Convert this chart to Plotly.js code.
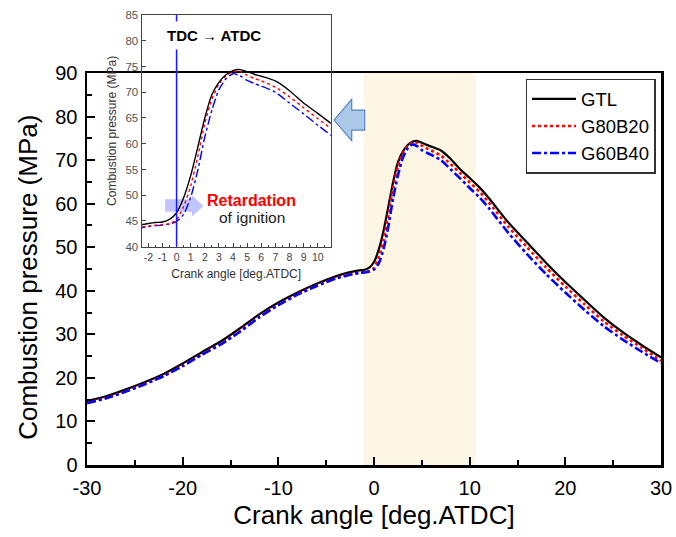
<!DOCTYPE html>
<html>
<head>
<meta charset="utf-8">
<script src="https://cdn.plot.ly/plotly-3.0.1.min.js"></script>
<style>html,body{margin:0;padding:0;background:#fff;}#chart{width:676px;height:537px;}</style>
</head>
<body>
<div id="chart"></div>
<script>
// Crank angle [deg.ATDC]
var crankAngle = [-30,-28,-26,-24,-22,-20,-18,-16,-14,-12,-10,-8,-6,-4,-3,-2,-1.5,-1,-0.5,0,0.5,1,1.5,2,2.5,3,3.5,4,4.5,5,5.5,6,7,8,9,10,11,12,14,16,18,20,22,24,26,28,30];
// Combustion pressure (MPa)
var gtl    = [14.7,15.8,17.3,19.0,20.9,23.3,25.9,28.4,31.4,34.6,37.3,39.6,41.6,43.3,44.0,44.5,44.7,44.8,45.3,46.6,49.5,53.8,59.3,65.0,69.5,71.9,73.4,74.2,74.4,74.0,73.5,73.1,72.2,70.3,67.9,65.9,63.8,61.3,55.8,51.1,46.4,42.0,37.9,33.9,30.5,27.5,24.7];
var g80b20 = [14.3,15.4,16.9,18.6,20.5,22.8,25.4,27.8,30.8,34.0,36.8,39.2,41.2,42.9,43.6,44.0,44.2,44.3,44.5,45.2,47.8,51.8,57.5,63.9,68.6,71.6,73.2,74.0,74.0,73.3,72.7,72.2,71.0,69.1,67.0,64.9,62.8,60.3,54.8,50.0,45.3,41.0,36.9,33.0,29.8,26.9,23.9];
var g60b40 = [14.2,15.3,16.8,18.5,20.4,22.7,25.3,27.7,30.6,33.9,36.7,39.1,41.1,42.8,43.4,43.9,44.1,44.2,44.4,44.9,46.3,49.6,54.8,61.3,66.5,70.5,72.6,73.6,73.2,72.3,71.7,71.2,70.0,67.9,65.8,63.6,61.5,59.0,53.4,48.4,43.8,39.6,35.6,31.9,28.8,26.0,23.4];
var seriesNames = ['GTL','G80B20','G60B40'];

var mainXTicks = [-30,-20,-10,0,10,20,30];
var mainXLabels = ['-30','-20','-10','0','10','20','30'];
var mainYTicks = [0,10,20,30,40,50,60,70,80,90];
var insetXTicks = [-2,-1,0,1,2,3,4,5,6,7,8,9,10];
var insetXLabels = ['-2','-1','0','1','2','3','4','5','6','7','8','9','10'];
var insetYTicks = [40,45,50,55,60,65,70,75,80,85];

var FONT = 'Arial, "Liberation Sans", sans-serif';
var series = [gtl, g80b20, g60b40];
var colors = ['#000000', '#FF0000', '#0000FF'];
var dashes = ['solid', 'dot', 'dashdot'];
var mainW = [2.2, 2.6, 2.6];
var insetW = [1.4, 1.4, 1.4];

var traces = [];
for (var i = 0; i < 3; i++) {
  traces.push({
    x: crankAngle, y: series[i], name: seriesNames[i], type: 'scatter', mode: 'lines',
    line: {color: colors[i], width: mainW[i], dash: dashes[i], shape: 'spline', smoothing: 0.6},
    xaxis: 'x', yaxis: 'y', showlegend: true
  });
}
for (var j = 2; j >= 0; j--) {
  traces.push({
    x: crankAngle, y: series[j], name: seriesNames[j], type: 'scatter', mode: 'lines',
    line: {color: colors[j], width: insetW[j], dash: dashes[j], shape: 'spline', smoothing: 0.6},
    xaxis: 'x2', yaxis: 'y2', showlegend: false, hoverinfo: 'skip'
  });
}

var layout = {
  width: 676, height: 537,
  margin: {l: 87, r: 15, t: 15, b: 72},
  paper_bgcolor: '#ffffff',
  plot_bgcolor: 'rgba(0,0,0,0)',
  font: {family: FONT, color: '#000'},
  showlegend: true,
  legend: {
    x: 0.764, y: 0.858, xanchor: 'left', yanchor: 'top',
    bgcolor: '#ffffff', bordercolor: '#333333', borderwidth: 1.5,
    font: {family: FONT, size: 18.5, color: '#000'},
    itemwidth: 44, tracegroupgap: 0
  },
  xaxis: {
    domain: [0, 1], range: [-30, 30], anchor: 'y',
    tickvals: mainXTicks, ticktext: mainXLabels, ticks: 'inside', ticklen: 8, tickwidth: 2, tickcolor: '#000',
    minor: {dtick: 5, ticks: 'inside', ticklen: 5, tickwidth: 2, tickcolor: '#000', showgrid: false},
    showline: true, linecolor: '#000', linewidth: 2.5, mirror: true,
    showgrid: false, zeroline: false, ticklabelstandoff: 3,
    tickfont: {family: FONT, size: 20, color: '#000'},
    title: {text: 'Crank angle [deg.ATDC]', font: {family: FONT, size: 26, color: '#000'}, standoff: 9}
  },
  yaxis: {
    domain: [0, 0.8711], range: [0, 90], anchor: 'x',
    tickvals: mainYTicks, ticks: 'inside', ticklen: 8, tickwidth: 2, tickcolor: '#000',
    minor: {dtick: 5, ticks: 'inside', ticklen: 5, tickwidth: 2, tickcolor: '#000', showgrid: false},
    showline: true, linecolor: '#000', linewidth: 2.5, mirror: true,
    showgrid: false, zeroline: false, ticklabelstandoff: 3,
    tickfont: {family: FONT, size: 20, color: '#000'}
  },
  xaxis2: {
    domain: [0.0953, 0.4246], range: [-2.47, 10.92], anchor: 'y2',
    tickvals: insetXTicks, ticktext: insetXLabels, tickangle: 0, ticks: 'inside', ticklen: 4, tickwidth: 1, tickcolor: '#444',
    minor: {dtick: 0.5, ticks: 'inside', ticklen: 2, tickwidth: 1, tickcolor: '#444', showgrid: false},
    showline: true, linecolor: '#444', linewidth: 1.2, mirror: true,
    showgrid: false, zeroline: false,
    tickfont: {family: FONT, size: 10.5, color: '#444'},
    title: {text: 'Crank angle [deg.ATDC]', font: {family: FONT, size: 12, color: '#333'}, standoff: 8}
  },
  yaxis2: {
    domain: [0.4851, 1.0], range: [40, 85], anchor: 'x2',
    tickvals: insetYTicks, ticks: 'inside', ticklen: 4, tickwidth: 1, tickcolor: '#444',
    showline: true, linecolor: '#444', linewidth: 1.2, mirror: true,
    showgrid: false, zeroline: false,
    tickfont: {family: FONT, size: 11.5, color: '#555'},
    title: {text: 'Combustion pressure (MPa)', font: {family: FONT, size: 12, color: '#333'}, standoff: 6}
  },
  shapes: [
    {type: 'rect', xref: 'x', yref: 'y', x0: -1.1, x1: 10.6, y0: 0, y1: 90,
     fillcolor: '#FEF6E4', line: {width: 0}, layer: 'below'},
    {type: 'line', xref: 'x2', yref: 'y2', x0: 0, x1: 0, y0: 40, y1: 85,
     line: {color: '#1a1aff', width: 1.5}, layer: 'above'},
    {type: 'path', xref: 'x', yref: 'y',
     path: 'M -4.18 79.2 L -2.33 83.95 L -2.33 81.5 L -0.97 81.5 L -0.97 76.9 L -2.33 76.9 L -2.33 74.45 Z',
     fillcolor: '#AAC8E8', line: {color: '#5A84B4', width: 1.2}, layer: 'above'},
    {type: 'path', xref: 'x2', yref: 'y2',
     path: 'M -0.81 49.2 L 1.08 49.2 L 1.08 50.0 L 1.9 47.9 L 1.08 45.8 L 1.08 46.8 L -0.81 46.8 Z',
     fillcolor: 'rgba(140,150,255,0.55)', line: {width: 0}, layer: 'below'}
  ],
  annotations: [
    {xref: 'paper', yref: 'paper', x: -0.103, y: 0.418, xanchor: 'center', yanchor: 'middle',
     text: 'Combustion pressure (MPa)', textangle: -90, showarrow: false,
     font: {family: FONT, size: 26, color: '#000'}},
    {xref: 'x2', yref: 'y2', x: 2.65, y: 81.1, text: '<b>TDC \u2192 ATDC</b>', showarrow: false,
     font: {family: FONT, size: 15, color: '#000'}, bgcolor: '#ffffff', borderpad: 5},
    {xref: 'x2', yref: 'y2', x: 5.32, y: 49.0, text: '<b>Retardation</b>', showarrow: false,
     font: {family: FONT, size: 16, color: '#FF0000'}},
    {xref: 'x2', yref: 'y2', x: 5.32, y: 45.7, text: 'of ignition', showarrow: false,
     font: {family: FONT, size: 15.5, color: '#222'}}
  ]
};

Plotly.newPlot('chart', traces, layout, {displayModeBar: false, staticPlot: true});
</script>
</body>
</html>
